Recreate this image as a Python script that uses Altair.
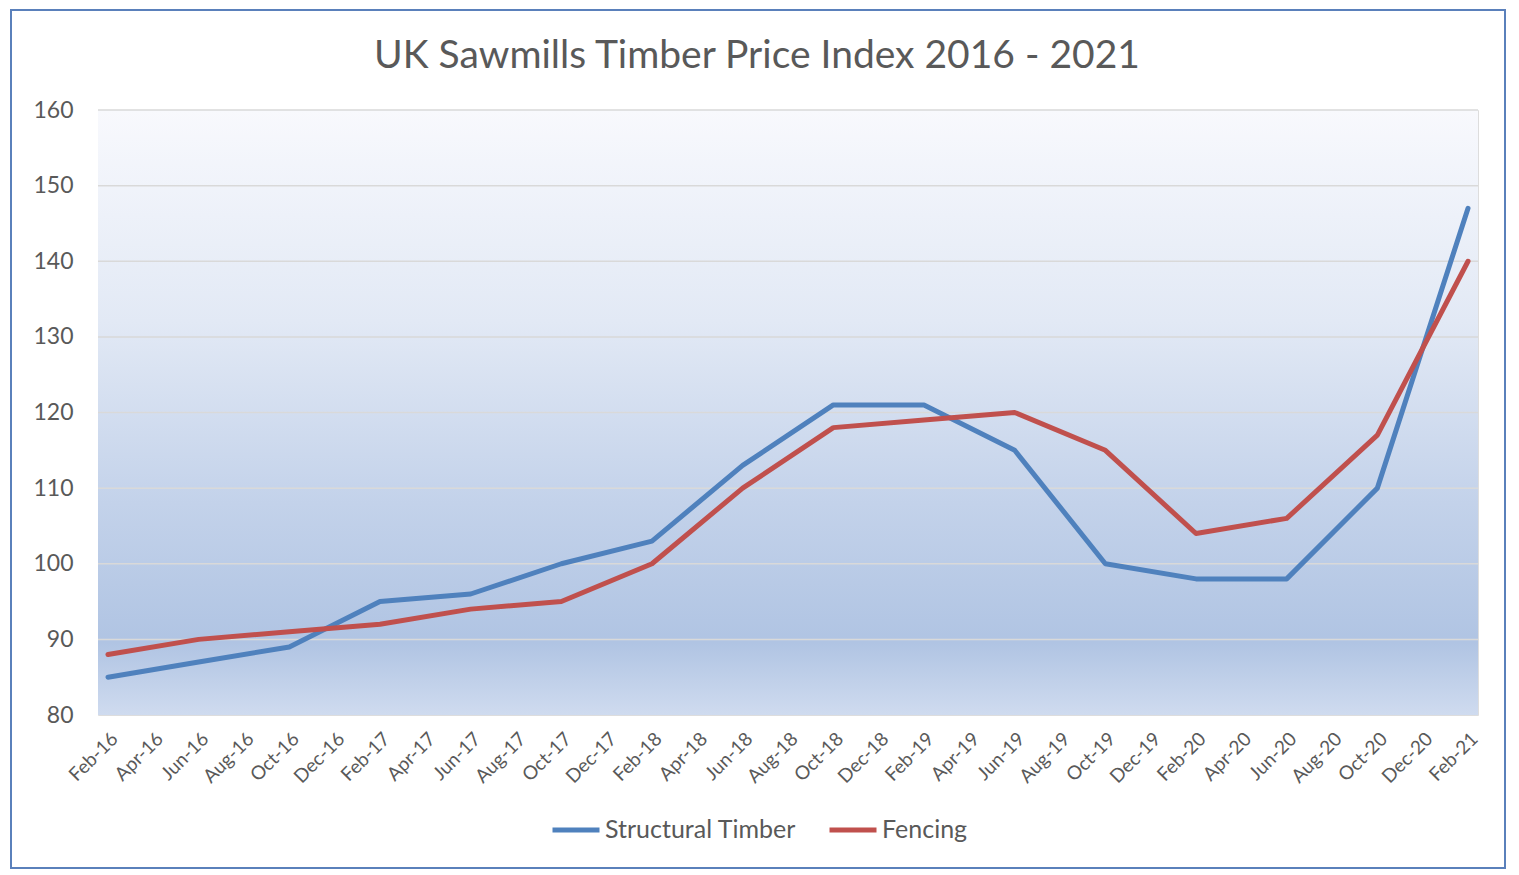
import altair as alt
import pandas as pd

# ---- data ----
tick_labels = ["Feb-16", "Apr-16", "Jun-16", "Aug-16", "Oct-16", "Dec-16",
               "Feb-17", "Apr-17", "Jun-17", "Aug-17", "Oct-17", "Dec-17",
               "Feb-18", "Apr-18", "Jun-18", "Aug-18", "Oct-18", "Dec-18",
               "Feb-19", "Apr-19", "Jun-19", "Aug-19", "Oct-19", "Dec-19",
               "Feb-20", "Apr-20", "Jun-20", "Aug-20", "Oct-20", "Dec-20",
               "Feb-21"]
dates = ["Feb-16", "Jun-16", "Oct-16", "Feb-17", "Jun-17", "Oct-17",
         "Feb-18", "Jun-18", "Oct-18", "Feb-19", "Jun-19", "Oct-19",
         "Feb-20", "Jun-20", "Oct-20", "Feb-21"]
structural = [85, 87, 89, 95, 96, 100, 103, 113, 121, 121, 115, 100, 98, 98, 110, 147]
fencing = [88, 90, 91, 92, 94, 95, 100, 110, 118, 119, 120, 115, 104, 106, 117, 140]
series_names = ["Structural Timber", "Fencing"]
series_colors = ["#4f81bd", "#c0504d"]
grid_values = [90, 100, 110, 120, 130, 140, 150, 160]

rows = []
for d, v in zip(dates, structural):
    rows.append({"date": d, "value": v, "series": series_names[0]})
for d, v in zip(dates, fencing):
    rows.append({"date": d, "value": v, "series": series_names[1]})
df = pd.DataFrame(rows)
grid_df = pd.DataFrame({"g": grid_values})

W, H = 1380, 605
FONT = "Lato"
TXT = "#595959"

yscale = alt.Scale(domain=[80, 160], nice=False, zero=False)
xscale = alt.Scale(type="point", domain=tick_labels, padding=0.22)

background = alt.Chart(grid_df).mark_rect(
    fill=alt.Gradient(
        gradient="linear",
        stops=[
            alt.GradientStop(color="#f8f9fd", offset=0),
            alt.GradientStop(color="#e2e9f5", offset=0.35),
            alt.GradientStop(color="#c3d2ea", offset=0.65),
            alt.GradientStop(color="#b0c4e3", offset=0.88),
            alt.GradientStop(color="#cfdbef", offset=1),
        ],
        x1=0, x2=0, y1=0, y2=1,
    )
).encode(x=alt.value(0), x2=alt.value(W), y=alt.value(0), y2=alt.value(H))

border = alt.Chart(grid_df).mark_rect(
    fill="transparent", stroke="#5a80bb", strokeWidth=2
).encode(x=alt.value(-87), x2=alt.value(1407), y=alt.value(-100), y2=alt.value(758))

grid = alt.Chart(grid_df).mark_rule(color="#d9d9d9", strokeWidth=1.5).encode(
    y=alt.Y("g:Q", scale=yscale)
)

lines = alt.Chart(df).mark_line(
    strokeWidth=5, strokeCap="round", strokeJoin="round"
).encode(
    x=alt.X("date:O", scale=xscale, sort=tick_labels,
            axis=alt.Axis(title=None, labelAngle=-45, labelFontSize=19,
                          labelFont=FONT, labelColor=TXT, ticks=False,
                          domain=False, labelPadding=14, labelOverlap=False,
                          grid=False)),
    y=alt.Y("value:Q", scale=yscale,
            axis=alt.Axis(title=None, values=[80, 90, 100, 110, 120, 130, 140, 150, 160],
                          labelFontSize=23, labelFont=FONT, labelColor=TXT,
                          ticks=False, domain=False, grid=False, labelPadding=25)),
    color=alt.Color("series:N",
                    scale=alt.Scale(domain=series_names, range=series_colors),
                    legend=alt.Legend(title=None, orient="none", direction="horizontal",
                                      legendX=452, legendY=694,
                                      symbolType="stroke", symbolSize=2209,
                                      symbolStrokeWidth=5, labelFontSize=25,
                                      labelFont=FONT, labelColor=TXT, labelLimit=500,
                                      labelOffset=3, columnPadding=22)),
    order=alt.Order("series:N"),
    detail="series:N",
)

chart = alt.layer(background, border, grid, lines).properties(
    width=W, height=H,
    title=alt.Title("UK Sawmills Timber Price Index 2016 - 2021", fontSize=39,
                    font=FONT, fontWeight="normal", color=TXT, anchor="middle",
                    dx=-31, offset=0, dy=67),
    autosize=alt.AutoSizeParams(type="none"),
    padding={"left": 90, "top": 102, "right": 33, "bottom": 157},
).configure_view(stroke=None).configure(background="white")

chart.save("out.html", embed_options={"renderer": "svg", "actions": False})
